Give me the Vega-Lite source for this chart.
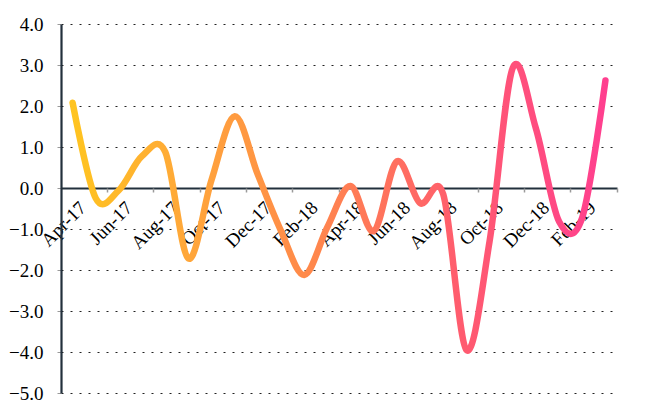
{
  "$schema": "https://vega.github.io/schema/vega-lite/v6.json",
  "width": 593,
  "height": 369,
  "autosize": {"type": "none"},
  "padding": {"left": 61, "top": 24, "right": 0, "bottom": 8},
  "background": "white",
  "config": {
    "view": {"stroke": null},
    "font": "Liberation Serif",
    "axis": {"labelFont": "Liberation Serif", "labelFontSize": 19, "titleFont": "Liberation Serif"}
  },
  "data": {
    "values": [
      {"month": "Apr-17", "value": 2.08},
      {"month": "May-17", "value": -0.25},
      {"month": "Jun-17", "value": -0.05},
      {"month": "Jul-17", "value": 0.78},
      {"month": "Aug-17", "value": 0.88},
      {"month": "Sep-17", "value": -1.72},
      {"month": "Oct-17", "value": 0.20},
      {"month": "Nov-17", "value": 1.75},
      {"month": "Dec-17", "value": 0.32},
      {"month": "Jan-18", "value": -1.05},
      {"month": "Feb-18", "value": -2.12},
      {"month": "Mar-18", "value": -0.95},
      {"month": "Apr-18", "value": 0.05},
      {"month": "May-18", "value": -1.05},
      {"month": "Jun-18", "value": 0.65},
      {"month": "Jul-18", "value": -0.37},
      {"month": "Aug-18", "value": -0.15},
      {"month": "Sep-18", "value": -3.95},
      {"month": "Oct-18", "value": -1.30},
      {"month": "Nov-18", "value": 2.93},
      {"month": "Dec-18", "value": 1.45},
      {"month": "Jan-19", "value": -0.82},
      {"month": "Feb-19", "value": -0.72},
      {"month": "Mar-19", "value": 2.62}
    ]
  },
  "layer": [
    {
      "mark": {
        "type": "line",
        "interpolate": "cardinal",
        "strokeWidth": 6.5,
        "strokeCap": "round",
        "strokeJoin": "round",
        "stroke": {
          "gradient": "linear",
          "x1": 0, "y1": 0, "x2": 1, "y2": 0,
          "stops": [
            {"offset": 0, "color": "#FFC420"},
            {"offset": 0.22, "color": "#FFA63A"},
            {"offset": 0.435, "color": "#FF8A4A"},
            {"offset": 0.74, "color": "#FF5A70"},
            {"offset": 1, "color": "#FF3F8F"}
          ]
        }
      },
      "encoding": {
        "x": {
          "field": "month",
          "type": "ordinal",
          "sort": null,
          "bandPosition": 0.5,
          "scale": {"type": "band", "paddingInner": 0, "paddingOuter": 0, "range": [0, 556]},
          "axis": {
            "orient": "bottom",
            "values": ["Apr-17", "Jun-17", "Aug-17", "Oct-17", "Dec-17", "Feb-18", "Apr-18", "Jun-18", "Aug-18", "Oct-18", "Dec-18", "Feb-19"],
            "offset": -205,
            "title": null,
            "grid": false,
            "ticks": false,
            "domainColor": "#22303c",
            "domainWidth": 2.2,
            "labelAngle": -45,
            "labelFont": "Liberation Serif",
            "labelFontSize": 19,
            "labelColor": "#000000",
            "labelPadding": 10,
            "labelOffset": 4,
            "labelOverlap": false,
            "labelBound": false
          }
        },
        "y": {
          "field": "value",
          "type": "quantitative",
          "scale": {"domain": [-5, 4], "nice": false, "zero": false},
          "axis": {
            "values": [-5, -4, -3, -2, -1, 0, 1, 2, 3, 4],
            "format": ".1f",
            "title": null,
            "grid": true,
            "gridDash": [2, 7],
            "gridColor": "#222222",
            "gridWidth": 1,
            "domainColor": "#22303c",
            "domainWidth": 2.2,
            "tickColor": "#9a9a9a",
            "tickSize": 4,
            "labelFont": "Liberation Serif",
            "labelFontSize": 19,
            "labelPadding": 14,
            "labelColor": "#000000"
          }
        }
      }
    },
    {
      "mark": {"type": "point", "opacity": 0},
      "encoding": {
        "x": {
          "field": "month",
          "type": "ordinal",
          "sort": null,
          "axis": {
            "orient": "bottom",
            "values": ["May-17", "Jul-17", "Sep-17", "Nov-17", "Jan-18", "Mar-18", "May-18", "Jul-18", "Sep-18", "Nov-18", "Jan-19", "Mar-19"],
            "bandPosition": 1,
            "offset": -205,
            "title": null,
            "grid": false,
            "labels": false,
            "domain": false,
            "tickColor": "#9a9a9a",
            "tickSize": 4,
            "tickWidth": 1.5
          }
        },
        "y": {"field": "value", "type": "quantitative"}
      }
    }
  ],
  "resolve": {"axis": {"x": "independent"}}
}
